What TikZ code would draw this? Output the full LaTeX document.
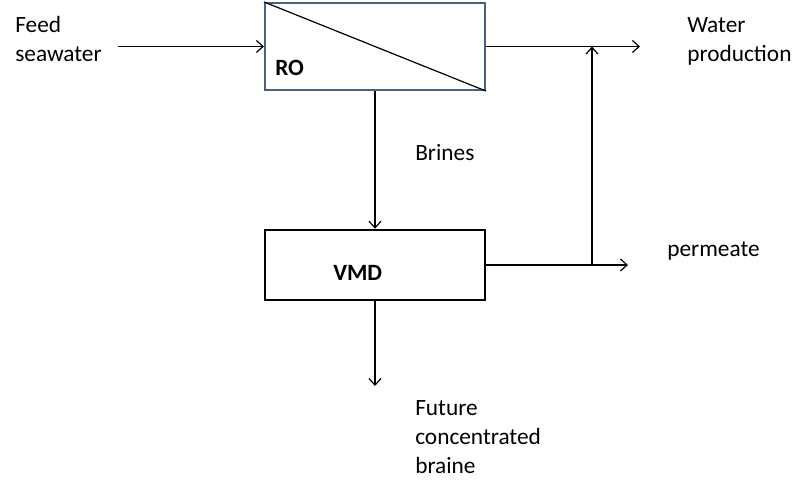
\documentclass[tikz,border=0pt]{standalone}
\usepackage{fontspec}
\setmainfont{Carlito}
\usetikzlibrary{arrows.meta}
\definecolor{bordeRO}{HTML}{4A6282}

\begin{document}
\begin{tikzpicture}[x=0.75pt,y=-0.75pt,
		every node/.style={font=\fontsize{17.5}{21.75}\selectfont},
		caja/.style={draw,minimum width=165pt,minimum height=#1,inner sep=0pt},
		texto/.style={align=left,anchor=base west,inner sep=0pt},
		flecha/.style={-{Straight Barb[length=5pt,width=9pt]},line width=0.9pt}]
	\useasboundingbox (0,0) rectangle (800,480);
	% Definir las cajas del proceso
	\node[caja=65.25pt,draw=bordeRO,line width=1.6pt] (ro) at (375,46.5) {};
	\draw[line width=0.9pt] (ro.north west) -- (ro.south east);
	\node[texto,font=\fontsize{17.5}{21.75}\selectfont\bfseries] (rotxt) at (275,75) {RO};
	\node[caja=52.5pt,line width=1.9pt] (vmd) at (375,265) {};
	\node[texto,font=\fontsize{17.5}{21.75}\selectfont\bfseries] (vmdtxt) at (333,280) {VMD};

	% Textos (la base es la de la ultima linea)
	\node[texto] (feed) at (15,61) {Feed\\seawater};
	\node[texto] (agua) at (687,61) {Water\\production};
	\node[texto] (brines) at (415,160) {Brines};
	\node[texto] (perm) at (667,256) {permeate};
	\node[texto] (futuro) at (415,473) {Future\\concentrated\\braine};

	% Puntos libres de las flechas
	\coordinate (fin) at (118,46.5);
	\coordinate (salida) at (640,46.5);
	\coordinate (union) at (592,46.5);
	\coordinate (pfin) at (628,265);
	\coordinate (pcruce) at (592,265);
	\coordinate (abajo) at (375,386);

	% Flechas
	\draw[flecha] (fin) -- (ro.west);
	\draw[flecha] (ro.east) -- (salida);
	\draw[flecha] (ro.south) -- (vmd.north);
	\draw[flecha] (vmd.east) -- (pfin);
	\draw[flecha] (pcruce) -- (union);
	\draw[flecha] (vmd.south) -- (abajo);
\end{tikzpicture}
\end{document}
